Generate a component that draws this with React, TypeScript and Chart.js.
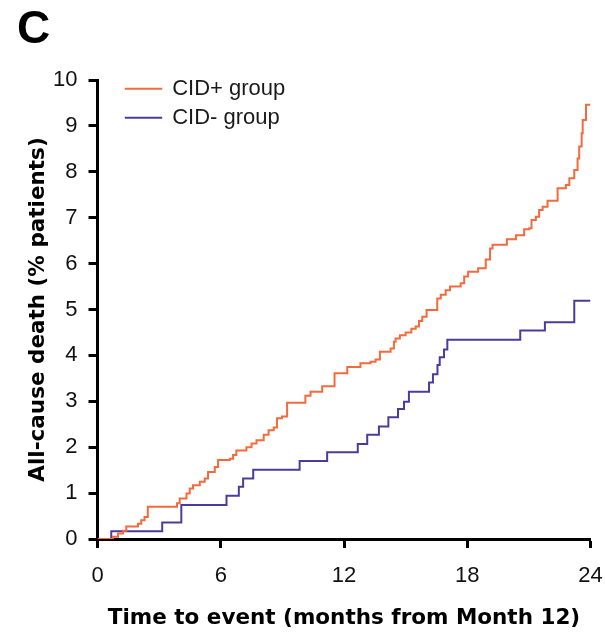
import React, { useEffect, useRef } from "react";
import { Chart, registerables } from "chart.js";

Chart.register(...registerables);

const xTitle = "Time to event (months from Month 12)";
const yTitle = "All-cause death (% patients)";
const panelLabel = "C";
const seriesNames = ["CID+ group", "CID- group"];
const seriesColors = ["#F46A3C", "#4B3C9C"];

const cidPlusTimes = [
  0, 0.75, 1.0, 1.24, 1.4, 1.97, 2.13, 2.29, 2.45, 3.87, 4.0, 4.33, 4.49, 4.65, 4.98, 5.22, 5.38, 5.71, 5.87,
  6.44, 6.6, 6.76, 7.25, 7.5, 7.74, 8.09, 8.33, 8.58, 8.74, 8.98, 9.23, 10.12, 10.37, 10.94, 11.54, 12.16,
  12.8, 13.29, 13.54, 13.75, 14.27, 14.43, 14.51, 14.72, 15.0, 15.28, 15.49, 15.65, 15.81, 16.02, 16.54,
  16.71, 16.95, 17.16, 17.68, 17.85, 18.04, 18.53, 18.9, 19.11, 19.23, 19.93, 20.37, 20.77, 21.02, 21.13,
  21.34, 21.5, 21.67, 21.91, 22.4, 22.8, 22.97, 23.21, 23.37, 23.45, 23.57, 23.62, 23.78, 24.0,
];
const cidPlusValues = [
  0, 0.05, 0.12, 0.18, 0.27, 0.33, 0.41, 0.48, 0.7, 0.78, 0.88, 0.99, 1.1, 1.17, 1.25, 1.32, 1.46, 1.57, 1.72,
  1.75, 1.83, 1.93, 2.0, 2.08, 2.15, 2.27, 2.37, 2.43, 2.63, 2.67, 2.97, 3.12, 3.21, 3.33, 3.61, 3.75,
  3.83, 3.86, 3.91, 4.08, 4.15, 4.3, 4.37, 4.44, 4.5, 4.58, 4.63, 4.75, 4.84, 4.99, 5.24,
  5.32, 5.42, 5.5, 5.57, 5.72, 5.82, 5.9, 6.09, 6.33, 6.41, 6.53, 6.62, 6.75, 6.77, 6.95,
  7.02, 7.17, 7.24, 7.37, 7.64, 7.71, 7.86, 8.04, 8.29, 8.55, 8.84, 9.13, 9.46, 9.46,
];

const cidMinusTimes = [
  0, 0.67, 3.15, 4.08, 6.28, 6.88, 7.09, 7.58, 9.84, 11.18, 12.67, 13.13, 13.7, 14.16, 14.63, 14.92, 15.16,
  16.14, 16.33, 16.55, 16.66, 16.87, 17.03, 20.58, 21.78, 23.21, 24.0,
];
const cidMinusValues = [
  0, 0.17, 0.36, 0.74, 0.94, 1.14, 1.32, 1.51, 1.7, 1.89, 2.07, 2.27, 2.45, 2.65, 2.83, 2.99, 3.21,
  3.41, 3.59, 3.79, 3.96, 4.13, 4.34, 4.54, 4.72, 5.19, 5.19,
];

const xTickValues = [0, 6, 12, 18, 24];
const yTickValues = [0, 1, 2, 3, 4, 5, 6, 7, 8, 9, 10];

const tickFont = { family: "'Liberation Sans', Arial, sans-serif", size: 22 };
const titleFont = { family: "'DejaVu Sans', sans-serif", size: 21.5, weight: "bold" as const };

const overlayPlugin = {
  id: "overlay",
  afterDraw(chart: any) {
    const ctx = chart.ctx as CanvasRenderingContext2D;
    ctx.save();
    // panel label
    ctx.fillStyle = "#000";
    ctx.font = "bold 46px 'Liberation Sans', Arial, sans-serif";
    ctx.textBaseline = "alphabetic";
    ctx.textAlign = "left";
    ctx.fillText(panelLabel, 17, 43);
    // legend
    const xs = chart.scales.x;
    const ys = chart.scales.y;
    const lx0 = xs.getPixelForValue(1.33);
    const lx1 = xs.getPixelForValue(3.15);
    const rows = [ys.getPixelForValue(9.81), ys.getPixelForValue(9.18)];
    ctx.font = "22px 'Liberation Sans', Arial, sans-serif";
    ctx.textBaseline = "middle";
    seriesNames.forEach((name, i) => {
      ctx.strokeStyle = seriesColors[i];
      ctx.lineWidth = 2;
      ctx.beginPath();
      ctx.moveTo(lx0, rows[i]);
      ctx.lineTo(lx1, rows[i]);
      ctx.stroke();
      ctx.fillStyle = "#1a1a1a";
      ctx.fillText(name, lx1 + 10, rows[i]);
    });
    ctx.restore();
  },
};

export default function App() {
  const ref = useRef<HTMLCanvasElement | null>(null);
  useEffect(() => {
    if (!ref.current) return;
    const mk = (t: number[], v: number[]) => t.map((x, i) => ({ x, y: v[i] }));
    const chart = new Chart(ref.current, {
      type: "line",
      data: {
        datasets: [
          {
            label: seriesNames[0],
            data: mk(cidPlusTimes, cidPlusValues),
            stepped: true,
            borderColor: seriesColors[0],
            borderWidth: 2,
            pointRadius: 0,
            fill: false,
          },
          {
            label: seriesNames[1],
            data: mk(cidMinusTimes, cidMinusValues),
            stepped: true,
            borderColor: seriesColors[1],
            borderWidth: 2,
            pointRadius: 0,
            fill: false,
          },
        ],
      },
      options: {
        animation: false,
        responsive: true,
        maintainAspectRatio: false,
        layout: { padding: { top: 80, right: 14.5, left: 0, bottom: 0 } },
        plugins: { legend: { display: false }, tooltip: { enabled: false } },
        scales: {
          x: {
            type: "linear",
            min: 0,
            max: 24,
            afterBuildTicks: (s: any) => {
              s.ticks = xTickValues.map((value) => ({ value }));
            },
            ticks: { font: tickFont, color: "#111", padding: 15, maxRotation: 0 },
            grid: { drawOnChartArea: false, drawTicks: true, tickLength: 9, tickWidth: 3, tickColor: "#000" },
            border: { display: true, color: "#000", width: 3 },
            title: { display: true, text: xTitle, font: titleFont, color: "#000", padding: { top: 0, bottom: 2 } },
            afterFit: (s: any) => {
              s.height = 94;
              s.paddingLeft = 0;
              s.paddingRight = 0;
            },
          },
          y: {
            type: "linear",
            min: 0,
            max: 10,
            afterBuildTicks: (s: any) => {
              s.ticks = yTickValues.map((value) => ({ value }));
            },
            ticks: { font: tickFont, color: "#111", padding: 11 },
            grid: { drawOnChartArea: false, drawTicks: true, tickLength: 9, tickWidth: 3, tickColor: "#000" },
            border: { display: true, color: "#000", width: 3 },
            title: { display: true, text: yTitle, font: titleFont, color: "#000", padding: { top: 26, bottom: 0 } },
            afterFit: (s: any) => {
              s.width = 97.5;
              s.paddingTop = 0;
              s.paddingBottom = 0;
            },
          },
        },
      },
      plugins: [overlayPlugin],
    });
    return () => chart.destroy();
  }, []);
  return (
    <div style={{ position: "absolute", left: 0, top: 0, width: 605, height: 633, background: "#fff" }}>
      <canvas ref={ref} />
    </div>
  );
}
